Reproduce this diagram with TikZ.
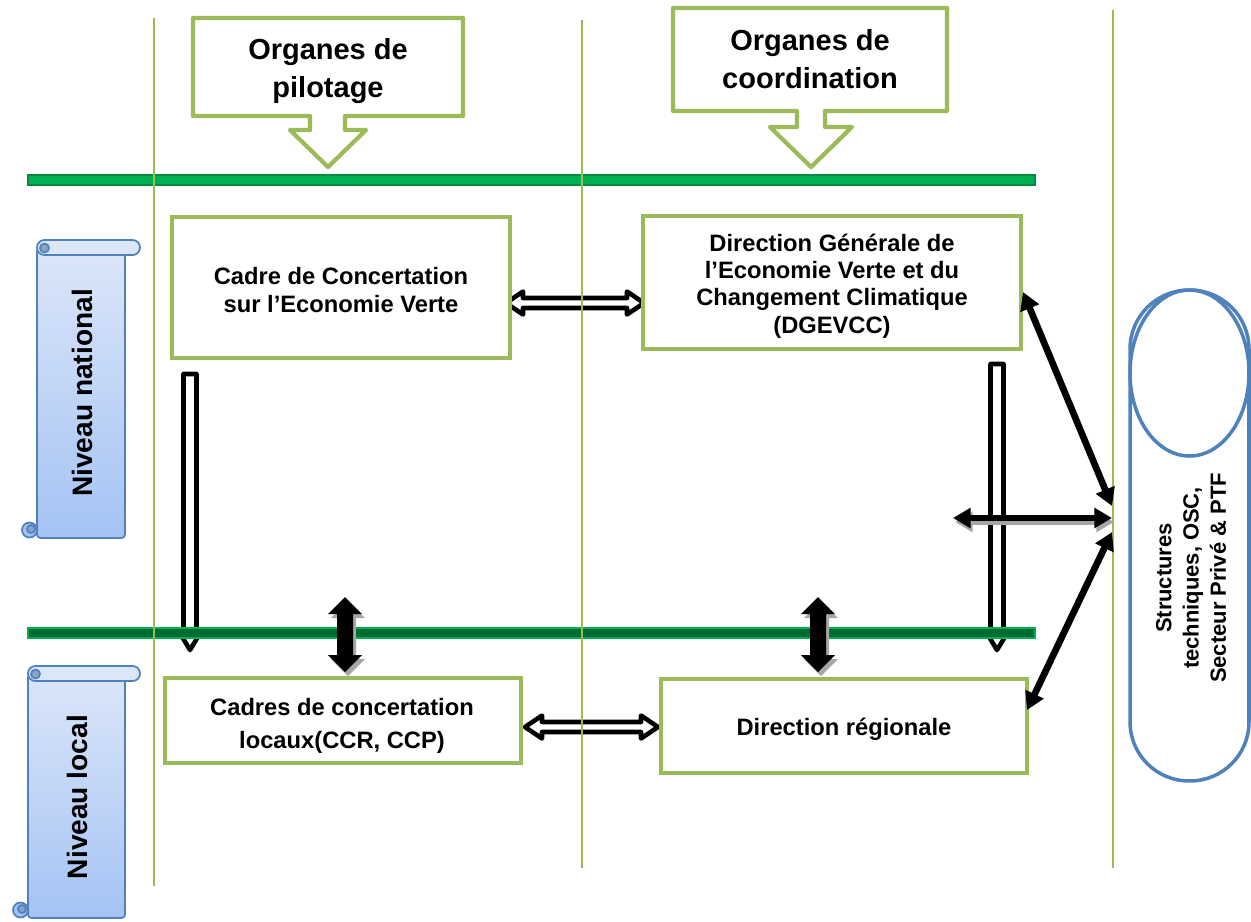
\documentclass[tikz,border=0pt]{standalone}
\usepackage{fontspec}
\setmainfont{Liberation Sans}
\usetikzlibrary{calc,arrows.meta}
\definecolor{olivegr}{HTML}{9BBB59}
\definecolor{barA}{HTML}{00B050}
\definecolor{barB}{HTML}{006B32}
\definecolor{capblue}{HTML}{4F81BD}
\definecolor{scrtop}{HTML}{DCE6F9}
\definecolor{scrbot}{HTML}{A4C3F4}
\definecolor{curlc}{HTML}{8DA3C4}
\newcommand{\hollowarrowH}[2]{%
 \draw[hollowarr] (#1) -- ($(#1)+(17,-11.5)$) -- ($(#1)+(17,-5)$) -- ($(#2)+(-17,-5)$) -- ($(#2)+(-17,-11.5)$) -- (#2) -- ($(#2)+(-17,11.5)$) -- ($(#2)+(-17,5)$) -- ($(#1)+(17,5)$) -- ($(#1)+(17,11.5)$) -- cycle;}
\newcommand{\hollowarrowV}[2]{%
 \draw[hollowarr] ($(#1)+(-6.5,0)$) -- ($(#2)+(-6.5,-20)$) -- ($(#2)+(-12,-20)$) -- (#2) -- ($(#2)+(12,-20)$) -- ($(#2)+(6.5,-20)$) -- ($(#1)+(6.5,0)$) -- cycle;}
\newcommand{\solidV}[3]{%
 \fill[#3] (#1) -- ($(#1)+(17,17)$) -- ($(#1)+(8,17)$) -- ($(#2)+(8,-17)$) -- ($(#2)+(17,-17)$) -- (#2) -- ($(#2)+(-17,-17)$) -- ($(#2)+(-8,-17)$) -- ($(#1)+(-8,17)$) -- ($(#1)+(-17,17)$) -- cycle;}
\newcommand{\vscroll}[3]{%
 \draw[scrl, top color=scrtop, bottom color=scrbot, rounded corners=2pt] (#1,#2+7.5) rectangle (125,#3);
 \draw[scrl, fill=scrtop, rounded corners=0.148cm] (#1,#2) rectangle (140,#2+15);
 \filldraw[scrl, fill=curlc] (#1+7.5,#2+8) circle [radius=4.5];
 \filldraw[scrl, fill=scrbot] (#1-7.5,#3-8) circle [radius=7.5];
 \filldraw[scrl, fill=curlc] (#1-6,#3-9) circle [radius=4];}
\begin{document}
\begin{tikzpicture}[x=0.02cm,y=-0.02cm,
  box/.style={draw=olivegr, line width=2.4pt, fill=white, inner sep=0pt},
  btxt/.style={align=center, font=\bfseries\fontsize{13.5}{16}\selectfont},
  callout/.style={draw=olivegr, line width=2.4pt, fill=white, line join=round},
  ctxt/.style={font=\bfseries\fontsize{16.5}{21.5}\selectfont, align=center},
  hollowarr/.style={draw=black, fill=white, line width=2.6pt, line join=round},
  thinarr/.style={line width=3.8pt, line cap=butt, {Triangle[length=10pt,width=11pt]}-{Triangle[length=10pt,width=11pt]}},
  scrl/.style={draw=capblue, line width=1pt},
  vline/.style={draw=olivegr, line width=0.9pt}]
\useasboundingbox (0,0) rectangle (1251,921);

% scrolls
\vscroll{37}{240}{538}
\node[font=\bfseries\fontsize{16}{19}\selectfont, rotate=90] (N1) at (82,393) {Niveau national};
\vscroll{28}{666}{918}
\node[font=\bfseries\fontsize{16}{19}\selectfont, rotate=90] (N2) at (77,797) {Niveau local};

% callouts
\draw[callout] (193,18) -- (463,18) -- (463,116) -- (345,116) -- (345,130) -- (366,130) -- (328,167) -- (290,130) -- (310,130) -- (310,116) -- (193,116) -- cycle;
\node[ctxt] (P) at (328,71) {Organes de\\pilotage};
\draw[callout] (673,8) -- (947,8) -- (947,111) -- (825,111) -- (825,127) -- (852,127) -- (811,167) -- (770,127) -- (797,127) -- (797,111) -- (673,111) -- cycle;
\node[ctxt] (Q) at (810,59) {Organes de\\coordination};

% hollow arrows
\coordinate (ab1) at (506,303);
\coordinate (ab2) at (644,303);
\hollowarrowH{ab1}{ab2}
\coordinate (cd1) at (525,727);
\coordinate (cd2) at (658,727);
\hollowarrowH{cd1}{cd2}
\coordinate (va1) at (190,374);
\coordinate (va2) at (190,650);
\hollowarrowV{va1}{va2}
\coordinate (vb1) at (997,364);
\coordinate (vb2) at (997,650);
\hollowarrowV{vb1}{vb2}

% bars
\draw[draw=barA!80!black, fill=barA, line width=0.6pt] (28,175) rectangle (1035,185);
\draw[draw=barA, fill=barB, line width=0.8pt] (28,628) rectangle (1035,638);

% vertical thin lines
\draw[vline] (154,18) -- (154,886);
\draw[vline] (582,20) -- (582,868);
\draw[vline] (1113,10) -- (1113,868);

% solid double arrows
\coordinate (s1t) at (345,597);
\coordinate (s1b) at (345,672);
\coordinate (s2t) at (818,597);
\coordinate (s2b) at (818,672);
\begin{scope}[transform canvas={shift={(3,4)}}]
\solidV{s1t}{s1b}{black!35}
\solidV{s2t}{s2b}{black!35}
\end{scope}
\solidV{s1t}{s1b}{black}
\solidV{s2t}{s2b}{black}

% boxes
\node[box, minimum width={338*0.02cm}, minimum height={141*0.02cm}] (A) at (341,287.5) {};
\node[btxt] (At) at (341,290) {Cadre de Concertation\\sur l’Economie Verte};
\node[box, minimum width={378*0.02cm}, minimum height={133*0.02cm}] (B) at (832,282.5) {};
\node[btxt, font=\bfseries\fontsize{13.5}{15.5}\selectfont] (Bt) at (832,286) {Direction Générale de\\l’Economie Verte et du\\Changement Climatique\\(DGEVCC)};
\node[box, minimum width={356*0.02cm}, minimum height={85*0.02cm}] (C) at (343,720.5) {};
\node[btxt, font=\bfseries\fontsize{13.5}{18.5}\selectfont] (Ct) at (342,726) {Cadres de concertation\\locaux(CCR, CCP)};
\node[box, minimum width={366*0.02cm}, minimum height={94*0.02cm}] (D) at (844,726) {};
\node[btxt] (Dt) at (844,729) {Direction régionale};

% right capsule
\node[draw=capblue, line width=2pt, rounded corners=1.18cm, minimum width=2.38cm, minimum height=9.82cm] (S) at (1189.5,535.5) {};
\draw[capblue, line width=2pt] (1189.5,373) ellipse [x radius=59.5, y radius=83];
\node[font=\bfseries\fontsize{12.5}{15.5}\selectfont, align=center, rotate=90] (St) at (1191,578) {Structures\\techniques, OSC,\\Secteur Privé \& PTF};

% thin black arrows
\coordinate (e1) at (1112,506);
\coordinate (e2) at (1112,518);
\coordinate (e3) at (1112,532);
\coordinate (t1) at (1023,292);
\coordinate (t2) at (953,518);
\coordinate (t3) at (1027,710);
\begin{scope}[transform canvas={shift={(2,4)}}]
\draw[thinarr, black!35] (e2) -- (t2);
\end{scope}
\draw[thinarr] (e1) -- (t1);
\draw[thinarr] (e2) -- (t2);
\draw[thinarr] (e3) -- (t3);
\end{tikzpicture}
\end{document}
